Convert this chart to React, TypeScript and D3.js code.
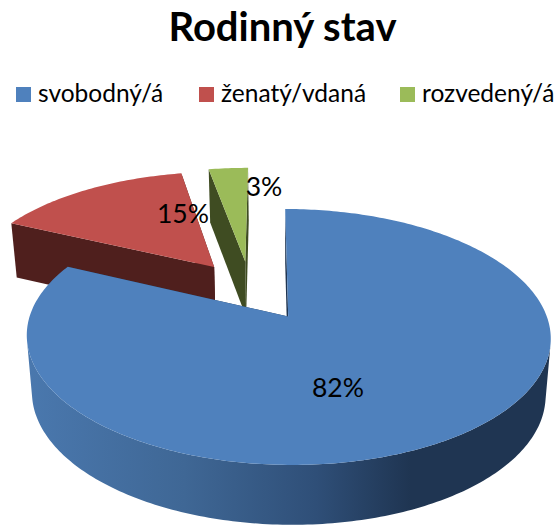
import React from "react";
import * as d3 from "d3";

const title = "Rodinný stav";
const categories = ["svobodný/á", "ženatý/vdaná", "rozvedený/á"];
const values = [82, 15, 3];
const labels = ["82%", "15%", "3%"];
const topColors = ["#4f81bd", "#c0504d", "#9bbb59"];
const sideColors = ["url(#blueSide)", "#4f1f1d", "#3f4c22"];
const explodeU = [0, -0.3, -0.172];
const explodeV = [0, -0.424, -0.473];
const labelPos = [[338, 387], [183, 213], [264, 186]];
const legendX = [16, 199, 400];
const legendTextX = [38, 221, 422];
const drawOrder = [1, 2, 0];

const P = 0.16;
type Disc = { cx: number; cy: number; rx: number; ry: number; shear: number };
const topDisc: Disc = { cx: 288.2, cy: 316.5, rx: 258.6, ry: 124.7, shear: 3.5 };
const bottomDisc: Disc = { cx: 288.2, cy: 373, rx: 253.5, ry: 127.5, shear: 3.5 };

const project = (d: Disc, u: number, v: number): [number, number] => {
  const w = 1 - P * v;
  return [d.cx + (d.rx * u + d.shear * v) / w, d.cy + (d.ry * v) / w];
};

const arcs = d3.pie<number>().sort(null).value((d) => d)(values);
const line = d3.line();

function sliceGeom(i: number) {
  const a = arcs[i];
  const n = Math.max(3, Math.ceil((a.endAngle - a.startAngle) * 60));
  const angles = d3.range(n + 1).map((k) => a.startAngle + ((a.endAngle - a.startAngle) * k) / n);
  const eu = explodeU[i];
  const ev = explodeV[i];
  const rim = (d: Disc) => angles.map((t) => project(d, eu + Math.sin(t), ev - Math.cos(t)));
  const topRim = rim(topDisc);
  const botRim = rim(bottomDisc);
  const topApex = project(topDisc, eu, ev);
  const botApex = project(bottomDisc, eu, ev);
  const front = d3
    .range(n)
    .filter((k) => d3.polygonArea([topRim[k], topRim[k + 1], botRim[k + 1], botRim[k]]) > 0);
  let wall = "";
  if (front.length) {
    const lo = front[0];
    const hi = front[front.length - 1] + 1;
    wall = line([...topRim.slice(lo, hi + 1), ...botRim.slice(lo, hi + 1).reverse()])! + "Z";
  }
  return {
    top: line([topApex, ...topRim])! + "Z",
    wall,
    faceA: line([topApex, topRim[0], botRim[0], botApex])! + "Z",
    faceB: line([topApex, topRim[n], botRim[n], botApex])! + "Z",
  };
}

export default function App() {
  return (
    <svg
      width={560}
      height={525}
      style={{ position: "absolute", left: 0, top: 0, background: "#fff" }}
      fontFamily="Lato, Carlito, sans-serif"
    >
      <defs>
        <linearGradient id="blueSide" gradientUnits="userSpaceOnUse" x1={27} x2={552} y1={0} y2={0}>
          <stop offset="0" stopColor="#4a78ae" />
          <stop offset="0.3" stopColor="#3f6795" />
          <stop offset="0.55" stopColor="#2f4f78" />
          <stop offset="0.73" stopColor="#1f3552" />
          <stop offset="1" stopColor="#1f3552" />
        </linearGradient>
      </defs>
      <text x={282.5} y={41} textAnchor="middle" fontSize={40} fontWeight={700} fill="#000">
        {title}
      </text>
      {categories.map((c, i) => (
        <g key={c}>
          <rect x={legendX[i]} y={87} width={15} height={15} fill={topColors[i]} />
          <text x={legendTextX[i]} y={102} fontSize={24.5} fill="#000">
            {c}
          </text>
        </g>
      ))}
      {drawOrder.map((i) => {
        const g = sliceGeom(i);
        return (
          <g key={i}>
            <path d={g.faceB} fill={i === 0 ? "#1f3552" : sideColors[i]} />
            {g.wall && <path d={g.wall} fill={sideColors[i]} />}
            <path d={g.faceA} fill={i === 0 ? "#1f3552" : sideColors[i]} />
            <path d={g.top} fill={topColors[i]} />
          </g>
        );
      })}
      {labels.map((l, i) => (
        <text
          key={l}
          x={labelPos[i][0]}
          y={labelPos[i][1]}
          textAnchor="middle"
          dominantBaseline="central"
          fontSize={26.5}
          fill="#000"
        >
          {l}
        </text>
      ))}
    </svg>
  );
}
